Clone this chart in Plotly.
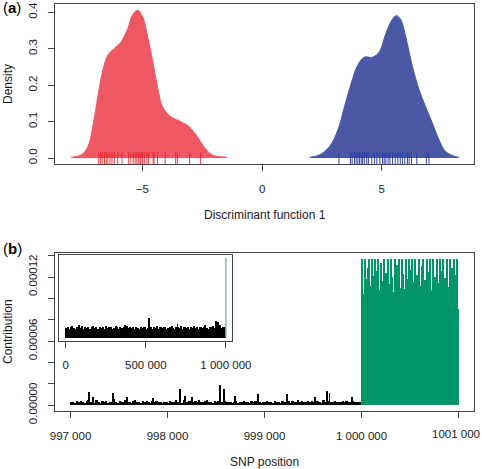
import plotly.graph_objects as go

# ---------------- Panel (a): discriminant function densities ----------------
red_x = [-7.97, -7.55, -7.27, -7.07, -6.93, -6.79, -6.65, -6.44, -6.17, -5.89, -5.61, -5.41,
         -5.20, -4.99, -4.78, -4.58, -4.37, -4.16, -3.82, -3.40, -3.06, -2.71, -2.44, -2.09, -1.46]
red_y = [0.002, 0.009, 0.032, 0.087, 0.141, 0.196, 0.242, 0.283, 0.301, 0.319, 0.356, 0.393,
         0.406, 0.388, 0.333, 0.269, 0.196, 0.141, 0.114, 0.100, 0.087, 0.059, 0.032, 0.009, 0.002]

blue_x = [1.99, 2.41, 2.82, 3.17, 3.44, 3.72, 4.00, 4.27, 4.62, 4.90, 5.17, 5.42,
          5.61, 5.80, 6.00, 6.28, 6.56, 6.83, 7.11, 7.39, 7.66, 8.08, 8.22]
blue_y = [0.002, 0.009, 0.032, 0.078, 0.141, 0.205, 0.256, 0.277, 0.277, 0.292, 0.342, 0.379,
          0.391, 0.379, 0.333, 0.251, 0.187, 0.141, 0.096, 0.050, 0.018, 0.004, 0.002]

red_rug = [-6.83, -6.75, -6.68, -6.58, -6.51, -6.44, -6.35, -6.27, -6.17, -6.03, -5.85, -5.57,
           -5.48, -5.38, -5.30, -5.23, -5.17, -5.10, -5.06, -4.99, -4.92, -4.81, -4.74, -4.55,
           -4.51, -4.37, -4.05, -3.61, -3.54, -3.03, -2.57]
blue_rug = [3.21, 3.69, 3.76, 3.86, 3.93, 4.00, 4.07, 4.14, 4.20, 4.27, 4.37, 4.44, 4.58,
            4.69, 4.79, 4.92, 5.03, 5.10, 5.17, 5.26, 5.34, 5.45, 5.56, 5.67, 5.77, 5.86,
            5.96, 6.07, 6.14, 6.24, 6.46, 6.86, 6.97]

a_xticks = [-5, 0, 5]
a_xticklabels = ["\u22125", "0", "5"]
a_yticks = [0.0, 0.1, 0.2, 0.3, 0.4]
a_yticklabels = ["0.0", "0.1", "0.2", "0.3", "0.4"]

# ---------------- Panel (b): SNP contributions (units of 1e-6) ----------------
black_start, black_step = 997000, 20
black_vals = [
    2.5, 3.1, 2.0, 3.8, 2.6, 4.2, 3.0, 2.2, 3.5, 5.1, 2.8, 3.3, 2.4, 4.6, 3.0, 2.1, 3.7, 2.9, 4.0, 2.3,
    3.2, 2.6, 5.4, 3.0, 2.2, 3.9, 2.7, 3.4, 4.4, 2.5, 3.1, 2.0, 3.6, 4.8, 2.9, 3.3, 2.4, 3.8, 2.6, 4.1,
    3.0, 2.2, 3.5, 2.8, 4.3, 2.5, 3.1, 2.0, 2.7, 3.4, 2.3, 3.9, 2.6, 3.2, 4.7, 2.8, 3.6, 2.4, 5.2, 3.0,
    2.9, 4.1, 3.3, 2.5, 3.8, 2.7, 4.4, 3.1, 2.6, 3.7, 4.9, 2.8, 3.4, 2.3, 4.2, 3.0, 3.6, 2.4, 3.2, 4.0,
    3.3, 2.6, 3.0, 2.2, 2.8, 3.5, 2.4, 3.1, 2.7, 3.9, 2.5, 3.2, 2.1, 3.6, 2.9, 4.3, 2.6, 3.0, 2.3, 3.4,
    2.8, 3.7, 2.5, 3.1, 2.2, 3.9, 2.6, 3.3, 2.4, 4.1, 3.0, 2.7, 3.5, 2.3, 3.8, 2.9, 3.2, 4.4, 2.6, 3.6,
    3.1, 2.5, 3.8, 2.9, 4.2, 3.3, 2.7, 3.9, 3.0, 2.4, 4.5, 3.2, 2.8, 3.6, 2.6, 3.4, 4.0, 2.5, 3.1, 2.7,
    3.5, 2.9, 3.8, 2.6, 3.2, 4.1, 2.8, 3.4, 2.5, 3.0]
spike_pos = [997190, 997230, 997440, 997580, 997850, 998130, 998180, 998250, 998540, 998585,
             998700, 998930, 999230, 999520, 999640, 999670, 999900]
spike_vals = [12.4, 7.5, 11.2, 8.0, 7.0, 15.0, 9.0, 8.0, 19.0, 15.0, 8.5, 10.0, 10.0, 8.0, 13.0, 11.0, 7.5]

green_start, green_step = 1000000, 10
green_vals = [
    137, 104, 88, 137, 118, 84, 128, 137, 72, 112, 137, 97, 121, 137, 91, 126, 80, 137, 108, 95,
    133, 116, 86, 137, 102, 124, 70, 137, 113, 94, 137, 120, 83, 106, 137, 99, 131, 88, 137, 110,
    96, 137, 123, 77, 109, 137, 64, 118, 137, 101, 127, 89, 137, 105, 115, 137, 81, 122, 98, 137,
    112, 93, 130, 137, 74, 117, 103, 137, 90, 125, 137, 85, 108, 137, 67, 120, 97, 137, 114, 92,
    137, 79, 126, 104, 137, 95, 119, 58, 137, 111, 87, 137, 106, 128, 50, 137, 100, 122, 137, 90]

b_xticks = [997000, 998000, 999000, 1000000, 1001000]
b_xticklabels = ["997 000", "998 000", "999 000", "1 000 000", "1001 000"]
b_yticks = [0, 20, 40, 60, 80, 100, 120, 140]
b_yticklabels = ["0.00000", "", "", "0.00006", "", "", "0.00012", ""]

# inset (whole genome)
inset_start, inset_step = 0, 10000
inset_vals = [
    17, 19, 16, 18, 20, 17, 16, 19, 18, 17, 21, 16, 18, 17, 19, 16, 18, 20, 17, 18,
    16, 19, 17, 18, 16, 20, 17, 19, 18, 16, 17, 21, 18, 16, 19, 17, 18, 16, 20, 17,
    18, 17, 19, 16, 18, 17, 16, 19, 17, 18, 16, 17, 19, 18, 16, 18, 17, 20, 16, 18,
    17, 19, 18, 16, 17, 18, 20, 17, 16, 19, 18, 17, 21, 16, 18, 17, 19, 16, 18, 17,
    20, 17, 18, 16, 19, 17, 18, 22, 17, 16, 19, 18, 20, 17, 23, 18, 22, 17, 19, 18]
inset_spike_pos = [85000, 370000, 521000, 700000, 940000, 955000]
inset_spike_vals = [22, 22, 34.6, 24, 29, 28]
inset_green_pos = [1000000]
inset_green_vals = [137]
inset_xticks = [0, 500000, 1000000]
inset_xticklabels = ["0", "500 000", "1 000 000"]

# ---------------- styling ----------------
RED_FILL = "rgb(238,88,98)"
RED_RUG = "rgba(228,30,42,0.85)"
BLUE_FILL = "rgb(74,88,165)"
BLUE_RUG = "rgba(45,58,160,0.95)"
GREEN = "rgb(0,150,106)"
GREEN_LIGHT = "rgb(115,195,165)"
AXC = "#444444"
FONT = "Liberation Sans, Arial, sans-serif"
W, H = 482, 469
SC = 1e-6


def px_x(p):
    return p / W


def px_y(p):
    return 1 - p / H


def rug_segments(vals, y0, y1):
    xs, ys = [], []
    for v in vals:
        xs += [v, v, None]
        ys += [y0, y1, None]
    return xs, ys


fig = go.Figure()

# densities
fig.add_trace(go.Scatter(x=red_x, y=red_y, mode="lines", line=dict(color=RED_FILL, width=1, shape="spline"),
                         fill="tozeroy", fillcolor=RED_FILL, xaxis="x", yaxis="y", hoverinfo="skip"))
fig.add_trace(go.Scatter(x=blue_x, y=blue_y, mode="lines", line=dict(color=BLUE_FILL, width=1, shape="spline"),
                         fill="tozeroy", fillcolor=BLUE_FILL, xaxis="x", yaxis="y", hoverinfo="skip"))
rx, ry = rug_segments(red_rug, -0.0163, 0.0155)
fig.add_trace(go.Scatter(x=rx, y=ry, mode="lines", line=dict(color=RED_RUG, width=1), xaxis="x", yaxis="y"))
bx, by = rug_segments(blue_rug, -0.0163, 0.0155)
fig.add_trace(go.Scatter(x=bx, y=by, mode="lines", line=dict(color=BLUE_RUG, width=1), xaxis="x", yaxis="y"))

# panel b bars
black_x = [black_start + black_step * i + black_step / 2 for i in range(len(black_vals))]
fig.add_trace(go.Bar(x=black_x, y=[v * SC for v in black_vals], width=black_step,
                     marker=dict(color="black", line=dict(width=0)), xaxis="x2", yaxis="y2"))
fig.add_trace(go.Bar(x=spike_pos, y=[v * SC for v in spike_vals], width=9,
                     marker=dict(color="black", line=dict(width=0)), xaxis="x2", yaxis="y2"))
green_x = [green_start + green_step * i + green_step / 2 for i in range(len(green_vals))]
fig.add_trace(go.Bar(x=green_x, y=[v * SC for v in green_vals], width=green_step,
                     marker=dict(color=GREEN, line=dict(width=0)), xaxis="x2", yaxis="y2"))

# inset
inset_x = [inset_start + inset_step * i + inset_step / 2 for i in range(len(inset_vals))]
fig.add_trace(go.Bar(x=inset_x, y=[v * SC for v in inset_vals], width=inset_step,
                     marker=dict(color="black", line=dict(width=0)), xaxis="x3", yaxis="y3"))
fig.add_trace(go.Bar(x=inset_spike_pos, y=[v * SC for v in inset_spike_vals], width=5000,
                     marker=dict(color="black", line=dict(width=0)), xaxis="x3", yaxis="y3"))
gx, gy = [], []
for p, v in zip(inset_green_pos, inset_green_vals):
    gx += [p, p, None]
    gy += [0, v * SC, None]
fig.add_trace(go.Scatter(x=gx, y=gy, mode="lines", line=dict(color=GREEN_LIGHT, width=1.5),
                         xaxis="x3", yaxis="y3"))

tickfont = dict(family=FONT, size=11.5, color="#1a1a1a")
common = dict(showgrid=False, zeroline=False, showline=True, mirror=True, linecolor=AXC, linewidth=1,
              ticks="outside", ticklen=6, tickcolor=AXC, tickwidth=1, tickfont=tickfont, automargin=False,
              ticklabeloverflow="allow")

# last panel-b tick label would run past the right edge: drawn as a right-aligned annotation instead
b_axis_labels = b_xticklabels[:-1] + [""]

xd = [px_x(55), px_x(474)]
fig.update_layout(
    width=W, height=H, margin=dict(l=0, r=0, t=0, b=0, autoexpand=False),
    paper_bgcolor="white", plot_bgcolor="rgba(0,0,0,0)", showlegend=False,
    barmode="overlay", bargap=0, hovermode=False,
    xaxis=dict(domain=xd, range=[-8.65, 8.85], anchor="y", tickvals=a_xticks, ticktext=a_xticklabels,
               ticklabelstandoff=8, **common),
    yaxis=dict(domain=[px_y(164), px_y(4)], range=[-0.0163, 0.4230], anchor="x", tickvals=a_yticks,
               ticktext=a_yticklabels, tickangle=-90, ticklabelstandoff=6, **common),
    xaxis2=dict(domain=xd, range=[996840, 1001160], anchor="y2", tickvals=b_xticks, ticktext=b_axis_labels,
                ticklabelstandoff=8, **common),
    yaxis2=dict(domain=[px_y(411), px_y(253)], range=[-5.5e-6, 142.5e-6], anchor="x2",
                tickvals=[v * SC for v in b_yticks], ticktext=b_yticklabels, tickangle=-90,
                ticklabelstandoff=6, **common),
    xaxis3=dict(domain=[px_x(59.3), px_x(232.3)], range=[-40000, 1040000], anchor="y3",
                tickvals=inset_xticks, ticktext=inset_xticklabels, ticklabelstandoff=8, **common),
    yaxis3=dict(domain=[px_y(340.5), px_y(254.5)], range=[-5.5e-6, 142.5e-6], anchor="x3",
                showgrid=False, zeroline=False, showline=True, mirror=True, linecolor=AXC, linewidth=1,
                ticks="", showticklabels=False, automargin=False),
)

labfont = dict(family=FONT, size=12, color="#1a1a1a")
ann = [
    dict(text="Discriminant function 1", x=264.5, y=215),
    dict(text="SNP position", x=264.5, y=461.5),
    dict(text="Density", x=8, y=84, textangle=-90),
    dict(text="Contribution", x=8, y=332, textangle=-90),
]
annotations = []
for a in ann:
    annotations.append(dict(text=a["text"], x=px_x(a["x"]), y=px_y(a["y"]), xref="paper", yref="paper",
                            showarrow=False, xanchor="center", yanchor="middle",
                            textangle=a.get("textangle", 0), font=labfont))
for t, y in [("(<b>a</b>)", 8), ("(<b>b</b>)", 248)]:
    annotations.append(dict(text=t, x=px_x(1), y=px_y(y), xref="paper", yref="paper", showarrow=False,
                            xanchor="left", yanchor="middle", font=dict(family=FONT, size=15, color="black")))
annotations.append(dict(text=b_xticklabels[-1], x=px_x(481), y=px_y(434), xref="paper", yref="paper",
                        showarrow=False, xanchor="right", yanchor="middle", font=tickfont, borderpad=0))
fig.update_layout(annotations=annotations)

fig.write_html("out.html", config={"displayModeBar": False},
               post_script="document.body.style.margin='0';document.body.style.overflow='hidden';")
